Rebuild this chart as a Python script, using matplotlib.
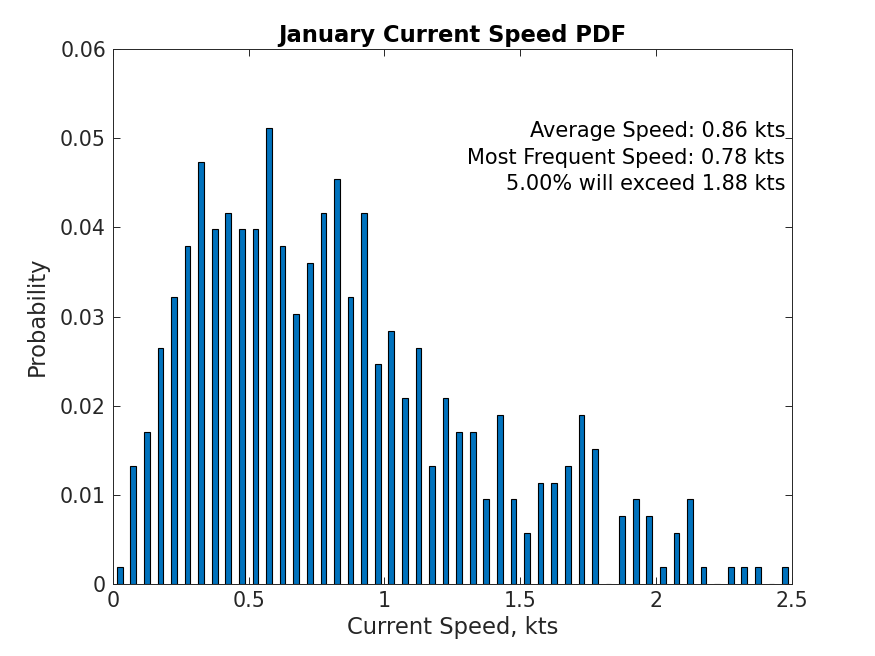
import numpy as np
import matplotlib.pyplot as plt
from matplotlib.ticker import FuncFormatter

# bin centres (kts) and counts, N ~ 528 samples
bin_centers = np.arange(0.025, 2.5, 0.05)
counts = [1, 7, 9, 14, 17, 20, 25, 21, 22, 21,
          21, 27, 20, 16, 19, 22, 24, 17, 22, 13,
          15, 11, 14, 7, 11, 9, 9, 5, 10, 5,
          3, 6, 6, 7, 10, 8, 0, 4, 5, 4,
          1, 3, 5, 1, 0, 1, 1, 1, 0, 1]
n_samples = 528
prob = np.array(counts) / n_samples

stats_lines = ["Average Speed: 0.86 kts",
               "Most Frequent Speed: 0.78 kts",
               "5.00% will exceed 1.88 kts"]

fig = plt.figure(figsize=(8.75, 6.56), dpi=100)
ax = fig.add_axes([0.129, 0.11, 0.776, 0.815])

ax.bar(bin_centers, prob, width=0.021, color='#0072BD', edgecolor='black', linewidth=0.8)

ax.set_xlim(0, 2.5)
ax.set_ylim(0, 0.06)
ax.set_xticks(np.arange(0, 2.51, 0.5))
ax.set_yticks(np.arange(0, 0.061, 0.01))
ax.xaxis.set_major_formatter(FuncFormatter(lambda v, p: '0' if v == 0 else f'{v:g}'))
ax.yaxis.set_major_formatter(FuncFormatter(lambda v, p: '0' if v == 0 else f'{v:.2f}'))
ax.tick_params(direction='in', top=True, right=True, labelsize=14.8, length=5, width=0.7,
               colors='#262626', pad=5)
for s in ax.spines.values():
    s.set_linewidth(0.7)
    s.set_color('#262626')

ax.set_xlabel('Current Speed, kts', fontsize=16.3, color='#262626', labelpad=4)
ax.set_ylabel('Probability', fontsize=16.3, color='#262626', labelpad=8)
ax.set_title('January Current Speed PDF', fontsize=16.3, fontweight='bold', pad=5)

for i, line in enumerate(stats_lines):
    ax.text(2.475, 0.0508 - i * 0.00296, line, ha='right', va='center', fontsize=15)

fig.savefig('out.png', dpi=100)
